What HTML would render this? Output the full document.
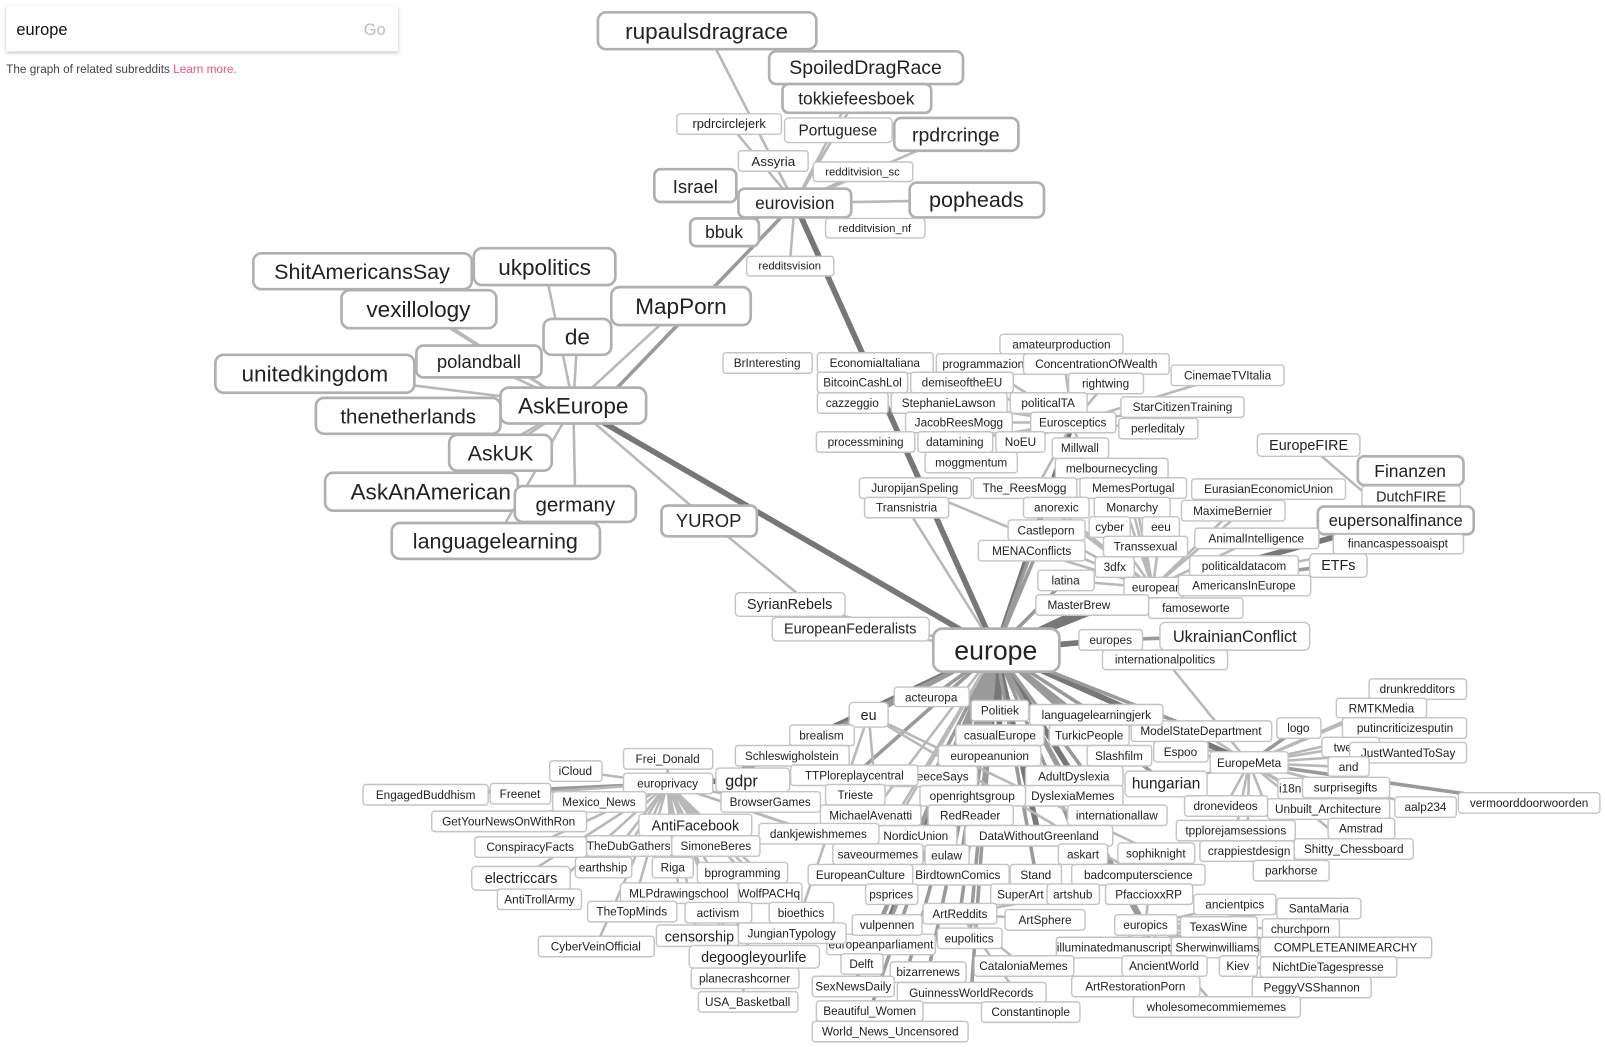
<!DOCTYPE html>
<html><head><meta charset="utf-8"><style>
html,body{margin:0;padding:0;background:#fff;width:1605px;height:1047px;overflow:hidden}
svg{display:block;font-family:"Liberation Sans",Arial,sans-serif}
.n rect{fill:#fff;stroke:#c4c4c4;stroke-width:1.4}
.b rect{fill:#fff;stroke:#b0b0b0;stroke-width:2.6}
text{fill:#222;text-anchor:middle}
.d{stroke:#777;stroke-width:5.5}
.m{stroke:#9a9a9a;stroke-width:3.5}
.l{stroke:#b8b8b8;stroke-width:2.5}
</style></head><body>
<svg width="1605" height="1047" viewBox="0 0 1565 1021" preserveAspectRatio="none">
<defs><filter id="sh" x="-5%" y="-20%" width="110%" height="150%"><feDropShadow dx="0" dy="1.5" stdDeviation="1.8" flood-opacity="0.25"/></filter></defs>
<rect x="6" y="6" width="382" height="44" fill="#fff" filter="url(#sh)"/>
<text x="16" y="34" style="font-size:16px;text-anchor:start;fill:#111">europe</text>
<text x="376" y="34" style="font-size:16px;text-anchor:end;fill:#bbb">Go</text>
<text x="6" y="71" style="font-size:11.5px;text-anchor:start;fill:#444">The graph of related subreddits <tspan fill="#e0557a">Learn more.</tspan></text>

<g stroke-linecap="round">
<!-- eurovision cluster -->
<line class="l" x1="775" y1="198" x2="689" y2="30"/><line class="l" x1="775" y1="198" x2="844" y2="66"/><line class="l" x1="775" y1="198" x2="835" y2="96"/><line class="l" x1="775" y1="198" x2="711" y2="121"/><line class="l" x1="775" y1="198" x2="817" y2="127"/><line class="l" x1="775" y1="198" x2="932" y2="131"/><line class="l" x1="775" y1="198" x2="754" y2="157"/><line class="l" x1="775" y1="198" x2="841" y2="167"/><line class="l" x1="775" y1="198" x2="678" y2="181"/><line class="l" x1="775" y1="198" x2="952" y2="195"/><line class="l" x1="775" y1="198" x2="706" y2="226"/><line class="l" x1="775" y1="198" x2="853" y2="222"/><line class="l" x1="775" y1="198" x2="770" y2="259"/>
<line class="m" x1="775" y1="198" x2="600" y2="380"/>
<!-- AskEurope cluster -->
<line class="l" x1="559" y1="395" x2="353" y2="264"/><line class="l" x1="559" y1="395" x2="531" y2="260"/><line class="l" x1="559" y1="395" x2="408" y2="301"/><line class="l" x1="559" y1="395" x2="664" y2="298"/><line class="l" x1="559" y1="395" x2="563" y2="328"/><line class="l" x1="559" y1="395" x2="467" y2="352"/><line class="l" x1="559" y1="395" x2="307" y2="364"/><line class="l" x1="559" y1="395" x2="398" y2="405"/><line class="l" x1="559" y1="395" x2="488" y2="441"/><line class="l" x1="559" y1="395" x2="411" y2="479"/><line class="l" x1="559" y1="395" x2="561" y2="491"/><line class="l" x1="559" y1="395" x2="483" y2="527"/><line class="l" x1="559" y1="395" x2="691" y2="508"/>
<line class="l" x1="691" y1="508" x2="790" y2="589"/>
<line class="l" x1="770" y1="589" x2="971" y2="634"/><line class="l" x1="829" y1="613" x2="971" y2="634"/>
<!-- main dark -->
<line class="d" x1="559" y1="395" x2="971" y2="634"/>
<line class="d" x1="775" y1="198" x2="971" y2="634"/>
<line class="d" x1="971" y1="634" x2="700" y2="762"/>
<line class="d" x1="971" y1="634" x2="1218" y2="744"/>
<line class="d" x1="971" y1="634" x2="1124" y2="573"/>
<line class="d" x1="971" y1="634" x2="1065" y2="590"/>
<line class="d" x1="971" y1="634" x2="1083" y2="624"/>
<line class="d" x1="971" y1="634" x2="1046" y2="412"/>
<line class="m" x1="971" y1="634" x2="1006" y2="537"/><line class="m" x1="971" y1="634" x2="1020" y2="517"/><line class="m" x1="971" y1="634" x2="1039" y2="566"/><line class="l" x1="971" y1="634" x2="884" y2="495"/>
<line class="m" x1="1083" y1="624" x2="1204" y2="620"/><line class="l" x1="1136" y1="643" x2="1218" y2="744"/>
<!-- Eurosceptics -->
<line class="l" x1="1046" y1="412" x2="956" y2="355"/><line class="l" x1="1046" y1="412" x2="1069" y2="355"/><line class="l" x1="1046" y1="412" x2="1035" y2="335"/><line class="l" x1="1046" y1="412" x2="1197" y2="366"/><line class="l" x1="1046" y1="412" x2="938" y2="373"/><line class="l" x1="1046" y1="412" x2="1078" y2="374"/><line class="l" x1="1046" y1="412" x2="925" y2="393"/><line class="l" x1="1046" y1="412" x2="1022" y2="393"/><line class="l" x1="1046" y1="412" x2="1153" y2="397"/><line class="l" x1="1046" y1="412" x2="935" y2="412"/><line class="l" x1="1046" y1="412" x2="1129" y2="418"/><line class="l" x1="1046" y1="412" x2="995" y2="431"/><line class="l" x1="1046" y1="412" x2="1053" y2="437"/><line class="l" x1="1046" y1="412" x2="947" y2="451"/><line class="l" x1="1046" y1="412" x2="931" y2="431"/><line class="l" x1="1046" y1="412" x2="1000" y2="495"/>
<!-- european -->
<line class="l" x1="1124" y1="573" x2="892" y2="476"/><line class="l" x1="1124" y1="573" x2="999" y2="476"/><line class="l" x1="1124" y1="573" x2="1105" y2="476"/><line class="l" x1="1124" y1="573" x2="1237" y2="477"/><line class="l" x1="1124" y1="573" x2="1030" y2="495"/><line class="l" x1="1124" y1="573" x2="1104" y2="495"/><line class="l" x1="1124" y1="573" x2="1202" y2="498"/><line class="l" x1="1124" y1="573" x2="1020" y2="517"/><line class="l" x1="1124" y1="573" x2="1082" y2="514"/><line class="l" x1="1124" y1="573" x2="1132" y2="514"/><line class="l" x1="1124" y1="573" x2="1225" y2="525"/><line class="l" x1="1124" y1="573" x2="1117" y2="533"/><line class="l" x1="1124" y1="573" x2="1006" y2="537"/><line class="l" x1="1124" y1="573" x2="1087" y2="553"/><line class="l" x1="1124" y1="573" x2="1213" y2="552"/><line class="l" x1="1124" y1="573" x2="1039" y2="566"/><line class="l" x1="1124" y1="573" x2="1213" y2="571"/><line class="l" x1="1124" y1="573" x2="1166" y2="593"/><line class="l" x1="1124" y1="573" x2="1084" y2="457"/><line class="m" x1="1124" y1="573" x2="1305" y2="551"/><line class="d" x1="1124" y1="573" x2="1361" y2="507"/><line class="l" x1="1124" y1="573" x2="1363" y2="530"/>
<line class="l" x1="1361" y1="507" x2="1276" y2="434"/><line class="l" x1="1361" y1="507" x2="1375" y2="459"/><line class="l" x1="1361" y1="507" x2="1376" y2="484"/>
<!-- EuropeMeta -->
<line class="l" x1="1218" y1="744" x2="1382" y2="672"/><line class="l" x1="1218" y1="744" x2="1347" y2="690"/><line class="m" x1="1218" y1="744" x2="1266" y2="710"/><line class="l" x1="1218" y1="744" x2="1370" y2="710"/><line class="l" x1="1218" y1="744" x2="1317" y2="728"/><line class="l" x1="1218" y1="744" x2="1373" y2="734"/><line class="l" x1="1218" y1="744" x2="1315" y2="748"/><line class="l" x1="1218" y1="744" x2="1171" y2="713"/><line class="l" x1="1218" y1="744" x2="1151" y2="733"/><line class="l" x1="1218" y1="744" x2="1137" y2="764"/><line class="l" x1="1218" y1="744" x2="1258" y2="769"/><line class="l" x1="1218" y1="744" x2="1312" y2="768"/><line class="l" x1="1218" y1="744" x2="1195" y2="786"/><line class="l" x1="1218" y1="744" x2="1295" y2="789"/><line class="l" x1="1218" y1="744" x2="1390" y2="787"/><line class="m" x1="1218" y1="744" x2="1491" y2="783"/><line class="l" x1="1218" y1="744" x2="1327" y2="808"/><line class="l" x1="1218" y1="744" x2="1205" y2="810"/><line class="l" x1="1218" y1="744" x2="1216" y2="830"/><line class="l" x1="1218" y1="744" x2="1320" y2="828"/><line class="l" x1="1218" y1="744" x2="1259" y2="849"/><line class="l" x1="1218" y1="744" x2="1069" y2="697"/>
<!-- europrivacy -->
<line class="l" x1="651" y1="764" x2="651" y2="740"/><line class="l" x1="651" y1="764" x2="561" y2="752"/><line class="m" x1="651" y1="764" x2="415" y2="775"/><line class="l" x1="651" y1="764" x2="507" y2="774"/><line class="l" x1="651" y1="764" x2="584" y2="782"/><line class="l" x1="651" y1="764" x2="496" y2="801"/><line class="l" x1="651" y1="764" x2="678" y2="804"/><line class="l" x1="651" y1="764" x2="517" y2="826"/><line class="l" x1="651" y1="764" x2="613" y2="825"/><line class="l" x1="651" y1="764" x2="698" y2="825"/><line class="l" x1="651" y1="764" x2="588" y2="846"/><line class="l" x1="651" y1="764" x2="656" y2="846"/><line class="l" x1="651" y1="764" x2="724" y2="851"/><line class="l" x1="651" y1="764" x2="508" y2="856"/><line class="l" x1="651" y1="764" x2="526" y2="877"/><line class="l" x1="651" y1="764" x2="662" y2="871"/><line class="l" x1="651" y1="764" x2="751" y2="871"/><line class="l" x1="651" y1="764" x2="616" y2="889"/><line class="l" x1="651" y1="764" x2="700" y2="890"/><line class="l" x1="651" y1="764" x2="781" y2="890"/><line class="l" x1="651" y1="764" x2="680" y2="912"/><line class="l" x1="651" y1="764" x2="581" y2="923"/><line class="l" x1="651" y1="764" x2="735" y2="933"/><line class="l" x1="651" y1="764" x2="726" y2="954"/><line class="l" x1="651" y1="764" x2="729" y2="977"/><line class="l" x1="651" y1="764" x2="798" y2="813"/><line class="l" x1="651" y1="764" x2="856" y2="833"/><line class="l" x1="651" y1="764" x2="751" y2="782"/>
<line class="d" x1="651" y1="764" x2="734" y2="760"/>
<!-- europe to bottom -->
<line class="m" x1="971" y1="634" x2="908" y2="680"/><line class="m" x1="971" y1="634" x2="847" y2="697"/><line class="m" x1="971" y1="634" x2="801" y2="717"/><line class="m" x1="971" y1="634" x2="772" y2="737"/><line class="m" x1="971" y1="634" x2="833" y2="756"/><line class="d" x1="971" y1="634" x2="975" y2="693"/><line class="m" x1="971" y1="634" x2="1069" y2="697"/><line class="d" x1="971" y1="634" x2="975" y2="717"/><line class="m" x1="971" y1="634" x2="1062" y2="717"/><line class="m" x1="971" y1="634" x2="1091" y2="737"/><line class="d" x1="971" y1="634" x2="965" y2="737"/><line class="m" x1="971" y1="634" x2="909" y2="757"/><line class="d" x1="971" y1="634" x2="1047" y2="757"/><line class="m" x1="971" y1="634" x2="948" y2="776"/><line class="m" x1="971" y1="634" x2="1046" y2="776"/><line class="m" x1="971" y1="634" x2="946" y2="795"/><line class="m" x1="971" y1="634" x2="1089" y2="795"/><line class="m" x1="971" y1="634" x2="893" y2="815"/><line class="d" x1="971" y1="634" x2="1013" y2="815"/><line class="m" x1="971" y1="634" x2="923" y2="834"/><line class="m" x1="971" y1="634" x2="1056" y2="833"/><line class="m" x1="971" y1="634" x2="934" y2="853"/><line class="m" x1="971" y1="634" x2="1010" y2="853"/><line class="m" x1="971" y1="634" x2="869" y2="872"/><line class="d" x1="971" y1="634" x2="865" y2="902"/><line class="m" x1="971" y1="634" x2="859" y2="921"/><line class="m" x1="971" y1="634" x2="840" y2="940"/><line class="m" x1="971" y1="634" x2="832" y2="962"/><line class="m" x1="971" y1="634" x2="848" y2="986"/><line class="m" x1="971" y1="634" x2="868" y2="1006"/><line class="m" x1="971" y1="634" x2="905" y2="948"/><line class="m" x1="971" y1="634" x2="947" y2="968"/><line class="m" x1="971" y1="634" x2="945" y2="915"/><line class="m" x1="971" y1="634" x2="936" y2="891"/><line class="m" x1="971" y1="634" x2="1117" y2="902"/><line class="m" x1="971" y1="634" x2="1135" y2="942"/><line class="m" x1="971" y1="634" x2="1137" y2="764"/><line class="m" x1="971" y1="634" x2="1171" y2="713"/><line class="l" x1="971" y1="634" x2="839" y2="853"/><line class="l" x1="971" y1="634" x2="849" y2="795"/><line class="l" x1="971" y1="634" x2="856" y2="833"/>
<line class="l" x1="847" y1="697" x2="1127" y2="832"/><line class="l" x1="847" y1="697" x2="1110" y2="853"/><line class="l" x1="847" y1="697" x2="854" y2="775"/><line class="l" x1="847" y1="697" x2="781" y2="890"/>
<line class="l" x1="1117" y1="902" x2="1186" y2="982"/><line class="l" x1="1117" y1="902" x2="1204" y2="882"/><line class="l" x1="1117" y1="902" x2="1188" y2="904"/><line class="l" x1="1117" y1="902" x2="1086" y2="924"/><line class="l" x1="1117" y1="902" x2="1107" y2="962"/><line class="l" x1="1117" y1="902" x2="1184" y2="924"/><line class="l" x1="1117" y1="902" x2="1268" y2="906"/><line class="l" x1="1117" y1="902" x2="1120" y2="872"/><line class="l" x1="1117" y1="902" x2="1207" y2="942"/><line class="l" x1="1117" y1="902" x2="1286" y2="886"/><line class="l" x1="1117" y1="902" x2="1295" y2="943"/><line class="l" x1="1117" y1="902" x2="1312" y2="924"/><line class="l" x1="1117" y1="902" x2="1279" y2="963"/>
<line class="l" x1="936" y1="891" x2="995" y2="872"/><line class="l" x1="936" y1="891" x2="1046" y2="872"/><line class="l" x1="936" y1="891" x2="1019" y2="897"/><line class="l" x1="936" y1="891" x2="998" y2="942"/><line class="l" x1="936" y1="891" x2="1005" y2="987"/>
</g>

<g font-size="11.5">
<!-- top -->
<g class="b"><rect x="583" y="12" width="213" height="36" rx="8"/><text x="689" y="38" font-size="22">rupaulsdragrace</text></g>
<g class="b"><rect x="750" y="50" width="189" height="32" rx="7"/><text x="844" y="72" font-size="19">SpoiledDragRace</text></g>
<g class="b"><rect x="763" y="82" width="145" height="28" rx="6"/><text x="835" y="102" font-size="17">tokkiefeesboek</text></g>
<g class="n"><rect x="660" y="111" width="102" height="20" rx="3"/><text x="711" y="125" font-size="12.5">rpdrcirclejerk</text></g>
<g class="n"><rect x="765" y="115" width="105" height="24" rx="4"/><text x="817" y="132" font-size="15">Portuguese</text></g>
<g class="b"><rect x="872" y="115" width="121" height="32" rx="7"/><text x="932" y="138" font-size="19">rpdrcringe</text></g>
<g class="n"><rect x="720" y="147" width="68" height="20" rx="3"/><text x="754" y="162" font-size="13">Assyria</text></g>
<g class="n"><rect x="793" y="158" width="97" height="19" rx="3"/><text x="841" y="171" font-size="11">redditvision_sc</text></g>
<g class="b"><rect x="638" y="165" width="80" height="32" rx="6"/><text x="678" y="188" font-size="18">Israel</text></g>
<g class="b"><rect x="720" y="184" width="110" height="28" rx="6"/><text x="775" y="204" font-size="17">eurovision</text></g>
<g class="b"><rect x="887" y="178" width="131" height="34" rx="7"/><text x="952" y="202" font-size="21">popheads</text></g>
<g class="b"><rect x="673" y="213" width="67" height="27" rx="6"/><text x="706" y="232" font-size="17">bbuk</text></g>
<g class="n"><rect x="805" y="213" width="97" height="19" rx="3"/><text x="853" y="226" font-size="11">redditvision_nf</text></g>
<g class="n"><rect x="728" y="250" width="85" height="19" rx="3"/><text x="770" y="263" font-size="11">redditsvision</text></g>
<!-- left -->
<g class="b"><rect x="247" y="247" width="213" height="35" rx="8"/><text x="353" y="272" font-size="21">ShitAmericansSay</text></g>
<g class="b"><rect x="462" y="242" width="138" height="36" rx="8"/><text x="531" y="268" font-size="22">ukpolitics</text></g>
<g class="b"><rect x="333" y="283" width="151" height="37" rx="8"/><text x="408" y="309" font-size="22">vexillology</text></g>
<g class="b"><rect x="596" y="280" width="136" height="37" rx="8"/><text x="664" y="306" font-size="22">MapPorn</text></g>
<g class="b"><rect x="530" y="311" width="66" height="35" rx="8"/><text x="563" y="336" font-size="22">de</text></g>
<g class="b"><rect x="406" y="337" width="122" height="31" rx="7"/><text x="467" y="359" font-size="18">polandball</text></g>
<g class="b"><rect x="210" y="346" width="194" height="37" rx="8"/><text x="307" y="372" font-size="22">unitedkingdom</text></g>
<g class="b"><rect x="488" y="378" width="142" height="35" rx="8"/><text x="559" y="403" font-size="22">AskEurope</text></g>
<g class="b"><rect x="308" y="388" width="180" height="35" rx="8"/><text x="398" y="413" font-size="20">thenetherlands</text></g>
<g class="b"><rect x="438" y="424" width="100" height="35" rx="8"/><text x="488" y="449" font-size="21">AskUK</text></g>
<g class="b"><rect x="317" y="461" width="188" height="37" rx="8"/><text x="420" y="487" font-size="22">AskAnAmerican</text></g>
<g class="b"><rect x="502" y="474" width="118" height="35" rx="8"/><text x="561" y="499" font-size="20">germany</text></g>
<g class="b"><rect x="382" y="510" width="203" height="35" rx="8"/><text x="483" y="535" font-size="21">languagelearning</text></g>
<g class="b"><rect x="645" y="493" width="93" height="30" rx="6"/><text x="691" y="514" font-size="18">YUROP</text></g>
<!-- mid upper -->
<g class="n"><rect x="705" y="344" width="87" height="20" rx="3"/><text x="748" y="358">BrInteresting</text></g>
<g class="n"><rect x="797" y="344" width="113" height="20" rx="3"/><text x="853" y="358">EconomiaItaliana</text></g>
<g class="n"><rect x="913" y="345" width="90" height="20" rx="3"/><text x="962" y="359">programmazione</text></g>
<g class="n"><rect x="975" y="326" width="120" height="19" rx="3"/><text x="1035" y="340">amateurproduction</text></g>
<g class="n"><rect x="998" y="345" width="142" height="20" rx="3"/><text x="1069" y="359">ConcentrationOfWealth</text></g>
<g class="n"><rect x="1142" y="356" width="110" height="20" rx="3"/><text x="1197" y="370">CinemaeTVItalia</text></g>
<g class="n"><rect x="797" y="363" width="88" height="20" rx="3"/><text x="841" y="377">BitcoinCashLol</text></g>
<g class="n"><rect x="888" y="363" width="100" height="20" rx="3"/><text x="938" y="377">demiseoftheEU</text></g>
<g class="n"><rect x="1042" y="364" width="73" height="20" rx="3"/><text x="1078" y="378">rightwing</text></g>
<g class="n"><rect x="797" y="383" width="69" height="20" rx="3"/><text x="831" y="397">cazzeggio</text></g>
<g class="n"><rect x="869" y="383" width="113" height="20" rx="3"/><text x="925" y="397">StephanieLawson</text></g>
<g class="n"><rect x="985" y="383" width="75" height="20" rx="3"/><text x="1022" y="397">politicalTA</text></g>
<g class="n"><rect x="1093" y="387" width="120" height="20" rx="3"/><text x="1153" y="401">StarCitizenTraining</text></g>
<g class="n"><rect x="883" y="402" width="104" height="20" rx="3"/><text x="935" y="416">JacobReesMogg</text></g>
<g class="n"><rect x="1005" y="402" width="83" height="20" rx="3"/><text x="1046" y="416">Eurosceptics</text></g>
<g class="n"><rect x="1091" y="408" width="77" height="20" rx="3"/><text x="1129" y="422">perleditaly</text></g>
<g class="n"><rect x="796" y="421" width="96" height="20" rx="3"/><text x="844" y="435">processmining</text></g>
<g class="n"><rect x="895" y="421" width="73" height="20" rx="3"/><text x="931" y="435">datamining</text></g>
<g class="n"><rect x="971" y="421" width="48" height="20" rx="3"/><text x="995" y="435">NoEU</text></g>
<g class="n"><rect x="1026" y="427" width="55" height="20" rx="3"/><text x="1053" y="441">Millwall</text></g>
<g class="n"><rect x="902" y="441" width="90" height="20" rx="3"/><text x="947" y="455">moggmentum</text></g>
<g class="n"><rect x="1029" y="447" width="110" height="20" rx="3"/><text x="1084" y="461">melbournecycling</text></g>
<g class="n"><rect x="1226" y="423" width="100" height="22" rx="4"/><text x="1276" y="439" font-size="14">EuropeFIRE</text></g>
<g class="b"><rect x="1324" y="445" width="103" height="28" rx="6"/><text x="1375" y="465" font-size="17">Finanzen</text></g>
<g class="n"><rect x="1328" y="474" width="96" height="20" rx="3"/><text x="1376" y="489" font-size="14">DutchFIRE</text></g>
<g class="b"><rect x="1285" y="494" width="152" height="27" rx="6"/><text x="1361" y="513" font-size="16">eupersonalfinance</text></g>
<g class="n"><rect x="1300" y="521" width="127" height="19" rx="3"/><text x="1363" y="534">financaspessoaispt</text></g>
<g class="n"><rect x="1277" y="540" width="56" height="23" rx="4"/><text x="1305" y="556" font-size="14">ETFs</text></g>
<g class="n"><rect x="838" y="466" width="109" height="20" rx="3"/><text x="892" y="480">JuropijanSpeling</text></g>
<g class="n"><rect x="949" y="466" width="101" height="20" rx="3"/><text x="999" y="480">The_ReesMogg</text></g>
<g class="n"><rect x="1053" y="466" width="104" height="20" rx="3"/><text x="1105" y="480">MemesPortugal</text></g>
<g class="n"><rect x="1162" y="467" width="150" height="20" rx="3"/><text x="1237" y="481">EurasianEconomicUnion</text></g>
<g class="n"><rect x="843" y="485" width="82" height="20" rx="3"/><text x="884" y="499">Transnistria</text></g>
<g class="n"><rect x="998" y="485" width="64" height="20" rx="3"/><text x="1030" y="499">anorexic</text></g>
<g class="n"><rect x="1067" y="485" width="74" height="20" rx="3"/><text x="1104" y="499">Monarchy</text></g>
<g class="n"><rect x="1152" y="488" width="101" height="20" rx="3"/><text x="1202" y="502">MaximeBernier</text></g>
<g class="n"><rect x="983" y="507" width="75" height="20" rx="3"/><text x="1020" y="521">Castleporn</text></g>
<g class="n"><rect x="1062" y="504" width="40" height="20" rx="3"/><text x="1082" y="518">cyber</text></g>
<g class="n"><rect x="1114" y="504" width="36" height="20" rx="3"/><text x="1132" y="518">eeu</text></g>
<g class="n"><rect x="1165" y="515" width="121" height="20" rx="3"/><text x="1225" y="529">AnimalIntelligence</text></g>
<g class="n"><rect x="1076" y="523" width="82" height="20" rx="3"/><text x="1117" y="537">Transsexual</text></g>
<g class="n"><rect x="954" y="527" width="104" height="20" rx="3"/><text x="1006" y="541">MENAConflicts</text></g>
<g class="n"><rect x="1068" y="543" width="38" height="20" rx="3"/><text x="1087" y="557">3dfx</text></g>
<g class="n"><rect x="1160" y="542" width="106" height="20" rx="3"/><text x="1213" y="556">politicaldatacom</text></g>
<g class="n"><rect x="1012" y="556" width="55" height="20" rx="3"/><text x="1039" y="570">latina</text></g>
<g class="n"><rect x="1096" y="563" width="58" height="20" rx="3"/><text x="1128" y="577">european</text></g>
<g class="n"><rect x="1149" y="561" width="129" height="20" rx="3"/><text x="1213" y="575">AmericansInEurope</text></g>
<g class="n"><rect x="1010" y="580" width="110" height="20" rx="3"/><text x="1052" y="594">MasterBrew</text></g>
<g class="n"><rect x="1120" y="583" width="92" height="20" rx="3"/><text x="1166" y="597">famoseworte</text></g>
<g class="n"><rect x="717" y="578" width="107" height="23" rx="4"/><text x="770" y="594" font-size="14">SyrianRebels</text></g>
<g class="n"><rect x="753" y="602" width="153" height="23" rx="4"/><text x="829" y="618" font-size="14">EuropeanFederalists</text></g>
<g class="n"><rect x="1052" y="614" width="62" height="20" rx="3"/><text x="1083" y="628">europes</text></g>
<g class="n"><rect x="1131" y="607" width="146" height="27" rx="5"/><text x="1204" y="626" font-size="16">UkrainianConflict</text></g>
<g class="n"><rect x="1075" y="634" width="122" height="19" rx="3"/><text x="1136" y="647">internationalpolitics</text></g>
<g class="b"><rect x="910" y="613" width="123" height="42" rx="9"/><text x="971" y="643" font-size="26">europe</text></g>
<!-- right lower -->
<g class="n"><rect x="1335" y="662" width="95" height="20" rx="3"/><text x="1382" y="676">drunkredditors</text></g>
<g class="n"><rect x="1303" y="681" width="88" height="19" rx="3"/><text x="1347" y="695">RMTKMedia</text></g>
<g class="n"><rect x="1245" y="700" width="43" height="20" rx="3"/><text x="1266" y="714">logo</text></g>
<g class="n"><rect x="1309" y="700" width="121" height="20" rx="3"/><text x="1370" y="714">putincriticizesputin</text></g>
<g class="n"><rect x="1289" y="719" width="56" height="19" rx="3"/><text x="1317" y="733">twents</text></g>
<g class="n"><rect x="1316" y="724" width="114" height="20" rx="3"/><text x="1373" y="738">JustWantedToSay</text></g>
<g class="n"><rect x="1295" y="738" width="40" height="19" rx="3"/><text x="1315" y="752">and</text></g>
<g class="n"><rect x="1103" y="703" width="137" height="20" rx="3"/><text x="1171" y="717">ModelStateDepartment</text></g>
<g class="n"><rect x="1125" y="723" width="53" height="20" rx="3"/><text x="1151" y="737">Espoo</text></g>
<g class="n"><rect x="1180" y="733" width="76" height="21" rx="3"/><text x="1218" y="748">EuropeMeta</text></g>
<g class="n"><rect x="1097" y="752" width="80" height="25" rx="4"/><text x="1137" y="769" font-size="15">hungarian</text></g>
<g class="n"><rect x="1246" y="759" width="30" height="20" rx="3"/><text x="1258" y="773">i18n</text></g>
<g class="n"><rect x="1270" y="758" width="85" height="20" rx="3"/><text x="1312" y="772">surprisegifts</text></g>
<g class="n"><rect x="1155" y="776" width="81" height="20" rx="3"/><text x="1195" y="790">dronevideos</text></g>
<g class="n"><rect x="1236" y="779" width="119" height="20" rx="3"/><text x="1295" y="793">Unbuilt_Architecture</text></g>
<g class="n"><rect x="1360" y="777" width="60" height="20" rx="3"/><text x="1390" y="791">aalp234</text></g>
<g class="n"><rect x="1422" y="773" width="138" height="20" rx="3"/><text x="1491" y="787">vermoorddoorwoorden</text></g>
<g class="n"><rect x="1295" y="798" width="65" height="20" rx="3"/><text x="1327" y="812">Amstrad</text></g>
<g class="n"><rect x="1147" y="800" width="116" height="20" rx="3"/><text x="1205" y="814">tpplorejamsessions</text></g>
<g class="n"><rect x="1170" y="820" width="92" height="20" rx="3"/><text x="1218" y="834">crappiestdesign</text></g>
<g class="n"><rect x="1262" y="818" width="116" height="20" rx="3"/><text x="1320" y="832">Shitty_Chessboard</text></g>
<g class="n"><rect x="1090" y="822" width="75" height="20" rx="3"/><text x="1127" y="836">sophiknight</text></g>
<g class="n"><rect x="1222" y="839" width="74" height="20" rx="3"/><text x="1259" y="853">parkhorse</text></g>
<!-- center lower -->
<g class="n"><rect x="872" y="670" width="73" height="19" rx="3"/><text x="908" y="684">acteuropa</text></g>
<g class="n"><rect x="947" y="683" width="56" height="20" rx="3"/><text x="975" y="697">Politiek</text></g>
<g class="n"><rect x="1004" y="687" width="130" height="20" rx="3"/><text x="1069" y="701">languagelearningjerk</text></g>
<g class="n"><rect x="932" y="707" width="86" height="20" rx="3"/><text x="975" y="721">casualEurope</text></g>
<g class="n"><rect x="1023" y="707" width="78" height="20" rx="3"/><text x="1062" y="721">TurkicPeople</text></g>
<g class="n"><rect x="1060" y="727" width="63" height="20" rx="3"/><text x="1091" y="741">Slashfilm</text></g>
<g class="n"><rect x="915" y="727" width="100" height="20" rx="3"/><text x="965" y="741">europeanunion</text></g>
<g class="n"><rect x="866" y="747" width="87" height="20" rx="3"/><text x="910" y="761">itGreeceSays</text></g>
<g class="n"><rect x="1000" y="747" width="95" height="20" rx="3"/><text x="1047" y="761">AdultDyslexia</text></g>
<g class="n"><rect x="997" y="766" width="98" height="20" rx="3"/><text x="1046" y="780">DyslexiaMemes</text></g>
<g class="n"><rect x="897" y="766" width="103" height="20" rx="3"/><text x="948" y="780">openrightsgroup</text></g>
<g class="n"><rect x="905" y="785" width="83" height="20" rx="3"/><text x="946" y="799">RedReader</text></g>
<g class="n"><rect x="1041" y="785" width="97" height="20" rx="3"/><text x="1089" y="799">internationallaw</text></g>
<g class="n"><rect x="853" y="805" width="80" height="20" rx="3"/><text x="893" y="819">NordicUnion</text></g>
<g class="n"><rect x="941" y="805" width="144" height="20" rx="3"/><text x="1013" y="819">DataWithoutGreenland</text></g>
<g class="n"><rect x="902" y="824" width="43" height="20" rx="3"/><text x="923" y="838">eulaw</text></g>
<g class="n"><rect x="1032" y="823" width="48" height="20" rx="3"/><text x="1056" y="837">askart</text></g>
<g class="n"><rect x="885" y="843" width="99" height="20" rx="3"/><text x="934" y="857">BirdtownComics</text></g>
<g class="n"><rect x="985" y="843" width="50" height="20" rx="3"/><text x="1010" y="857">Stand</text></g>
<g class="n"><rect x="1045" y="843" width="130" height="20" rx="3"/><text x="1110" y="857">badcomputerscience</text></g>
<g class="n"><rect x="966" y="862" width="58" height="20" rx="3"/><text x="995" y="876">SuperArt</text></g>
<g class="n"><rect x="1021" y="862" width="51" height="20" rx="3"/><text x="1046" y="876">artshub</text></g>
<g class="n"><rect x="1078" y="862" width="85" height="20" rx="3"/><text x="1120" y="876">PfaccioxxRP</text></g>
<g class="n"><rect x="1164" y="872" width="80" height="20" rx="3"/><text x="1204" y="886">ancientpics</text></g>
<g class="n"><rect x="1245" y="876" width="82" height="20" rx="3"/><text x="1286" y="890">SantaMaria</text></g>
<g class="n"><rect x="900" y="881" width="72" height="20" rx="3"/><text x="936" y="895">ArtReddits</text></g>
<g class="n"><rect x="980" y="887" width="78" height="20" rx="3"/><text x="1019" y="901">ArtSphere</text></g>
<g class="n"><rect x="1087" y="892" width="61" height="20" rx="3"/><text x="1117" y="906">europics</text></g>
<g class="n"><rect x="1151" y="894" width="75" height="20" rx="3"/><text x="1188" y="908">TexasWine</text></g>
<g class="n"><rect x="1231" y="896" width="75" height="20" rx="3"/><text x="1268" y="910">churchporn</text></g>
<g class="n"><rect x="914" y="905" width="63" height="20" rx="3"/><text x="945" y="919">eupolitics</text></g>
<g class="n"><rect x="1142" y="914" width="85" height="20" rx="3"/><text x="1187" y="928">Sherwinwilliams</text></g>
<g class="n"><rect x="1030" y="914" width="112" height="20" rx="3"/><text x="1086" y="928">illuminatedmanuscript</text></g>
<g class="n"><rect x="1229" y="914" width="167" height="20" rx="3"/><text x="1312" y="928">COMPLETEANIMEARCHY</text></g>
<g class="n"><rect x="950" y="932" width="97" height="20" rx="3"/><text x="998" y="946">CataloniaMemes</text></g>
<g class="n"><rect x="1094" y="932" width="83" height="20" rx="3"/><text x="1135" y="946">AncientWorld</text></g>
<g class="n"><rect x="1189" y="932" width="37" height="20" rx="3"/><text x="1207" y="946">Kiev</text></g>
<g class="n"><rect x="1229" y="933" width="133" height="20" rx="3"/><text x="1295" y="947">NichtDieTagespresse</text></g>
<g class="n"><rect x="1045" y="952" width="125" height="20" rx="3"/><text x="1107" y="966">ArtRestorationPorn</text></g>
<g class="n"><rect x="1221" y="953" width="116" height="20" rx="3"/><text x="1279" y="967">PeggyVSShannon</text></g>
<g class="n"><rect x="1105" y="972" width="163" height="20" rx="3"/><text x="1186" y="986">wholesomecommiememes</text></g>
<g class="n"><rect x="875" y="958" width="145" height="20" rx="3"/><text x="947" y="972">GuinnessWorldRecords</text></g>
<g class="n"><rect x="957" y="977" width="96" height="20" rx="3"/><text x="1005" y="991">Constantinople</text></g>
<!-- lower left -->
<g class="n"><rect x="828" y="685" width="38" height="24" rx="4"/><text x="847" y="702" font-size="14">eu</text></g>
<g class="n"><rect x="770" y="707" width="63" height="20" rx="3"/><text x="801" y="721">brealism</text></g>
<g class="n"><rect x="717" y="727" width="111" height="20" rx="3"/><text x="772" y="741">Schleswigholstein</text></g>
<g class="n"><rect x="608" y="730" width="87" height="20" rx="3"/><text x="651" y="744">Frei_Donald</text></g>
<g class="n"><rect x="536" y="742" width="51" height="20" rx="3"/><text x="561" y="756">iCloud</text></g>
<g class="n"><rect x="608" y="754" width="87" height="20" rx="3"/><text x="651" y="768">europrivacy</text></g>
<g class="n"><rect x="698" y="749" width="72" height="23" rx="4"/><text x="723" y="767" font-size="16">gdpr</text></g>
<g class="n"><rect x="771" y="746" width="124" height="20" rx="3"/><text x="833" y="760">TTPloreplaycentral</text></g>
<g class="n"><rect x="354" y="765" width="122" height="20" rx="3"/><text x="415" y="779">EngagedBuddhism</text></g>
<g class="n"><rect x="478" y="764" width="59" height="20" rx="3"/><text x="507" y="778">Freenet</text></g>
<g class="n"><rect x="539" y="772" width="91" height="20" rx="3"/><text x="584" y="786">Mexico_News</text></g>
<g class="n"><rect x="703" y="772" width="97" height="20" rx="3"/><text x="751" y="786">BrowserGames</text></g>
<g class="n"><rect x="805" y="765" width="58" height="20" rx="3"/><text x="834" y="779">Trieste</text></g>
<g class="n"><rect x="421" y="791" width="151" height="20" rx="3"/><text x="496" y="805">GetYourNewsOnWithRon</text></g>
<g class="n"><rect x="623" y="794" width="110" height="21" rx="3"/><text x="678" y="810" font-size="14">AntiFacebook</text></g>
<g class="n"><rect x="800" y="785" width="98" height="20" rx="3"/><text x="849" y="799">MichaelAvenatti</text></g>
<g class="n"><rect x="740" y="803" width="117" height="20" rx="3"/><text x="798" y="817">dankjewishmemes</text></g>
<g class="n"><rect x="463" y="816" width="109" height="20" rx="3"/><text x="517" y="830">ConspiracyFacts</text></g>
<g class="n"><rect x="572" y="815" width="83" height="20" rx="3"/><text x="613" y="829">TheDubGathers</text></g>
<g class="n"><rect x="655" y="815" width="86" height="20" rx="3"/><text x="698" y="829">SimoneBeres</text></g>
<g class="n"><rect x="812" y="823" width="88" height="20" rx="3"/><text x="856" y="837">saveourmemes</text></g>
<g class="n"><rect x="561" y="836" width="55" height="20" rx="3"/><text x="588" y="850">earthship</text></g>
<g class="n"><rect x="636" y="836" width="40" height="20" rx="3"/><text x="656" y="850">Riga</text></g>
<g class="n"><rect x="680" y="841" width="88" height="20" rx="3"/><text x="724" y="855">bprogramming</text></g>
<g class="n"><rect x="460" y="845" width="96" height="23" rx="4"/><text x="508" y="861" font-size="14">electriccars</text></g>
<g class="n"><rect x="788" y="843" width="102" height="20" rx="3"/><text x="839" y="857">EuropeanCulture</text></g>
<g class="n"><rect x="485" y="867" width="82" height="20" rx="3"/><text x="526" y="881">AntiTrollArmy</text></g>
<g class="n"><rect x="720" y="861" width="62" height="20" rx="3"/><text x="750" y="875">WolfPACHq</text></g>
<g class="n"><rect x="605" y="861" width="115" height="20" rx="3"/><text x="662" y="875">MLPdrawingschool</text></g>
<g class="n"><rect x="844" y="862" width="51" height="20" rx="3"/><text x="869" y="876">psprices</text></g>
<g class="n"><rect x="573" y="879" width="87" height="20" rx="3"/><text x="616" y="893">TheTopMinds</text></g>
<g class="n"><rect x="668" y="880" width="65" height="20" rx="3"/><text x="700" y="894">activism</text></g>
<g class="n"><rect x="750" y="880" width="63" height="20" rx="3"/><text x="781" y="894">bioethics</text></g>
<g class="n"><rect x="806" y="911" width="106" height="20" rx="3"/><text x="859" y="925">europeanparliament</text></g>
<g class="n"><rect x="831" y="892" width="68" height="20" rx="3"/><text x="865" y="906">vulpennen</text></g>
<g class="n"><rect x="640" y="902" width="80" height="21" rx="3"/><text x="682" y="918" font-size="14">censorship</text></g>
<g class="n"><rect x="720" y="900" width="105" height="20" rx="3"/><text x="772" y="914">JungianTypology</text></g>
<g class="n"><rect x="525" y="913" width="113" height="20" rx="3"/><text x="581" y="927">CyberVeinOfficial</text></g>
<g class="n"><rect x="672" y="922" width="127" height="22" rx="4"/><text x="735" y="938" font-size="14">degoogleyourlife</text></g>
<g class="n"><rect x="820" y="930" width="41" height="20" rx="3"/><text x="840" y="944">Delft</text></g>
<g class="n"><rect x="868" y="938" width="74" height="20" rx="3"/><text x="905" y="952">bizarrenews</text></g>
<g class="n"><rect x="674" y="944" width="105" height="20" rx="3"/><text x="726" y="958">planecrashcorner</text></g>
<g class="n"><rect x="792" y="952" width="80" height="20" rx="3"/><text x="832" y="966">SexNewsDaily</text></g>
<g class="n"><rect x="681" y="967" width="97" height="20" rx="3"/><text x="729" y="981">USA_Basketball</text></g>
<g class="n"><rect x="796" y="976" width="104" height="20" rx="3"/><text x="848" y="990">Beautiful_Women</text></g>
<g class="n"><rect x="792" y="996" width="152" height="20" rx="3"/><text x="868" y="1010">World_News_Uncensored</text></g>
</g>
</svg>
</body></html>
